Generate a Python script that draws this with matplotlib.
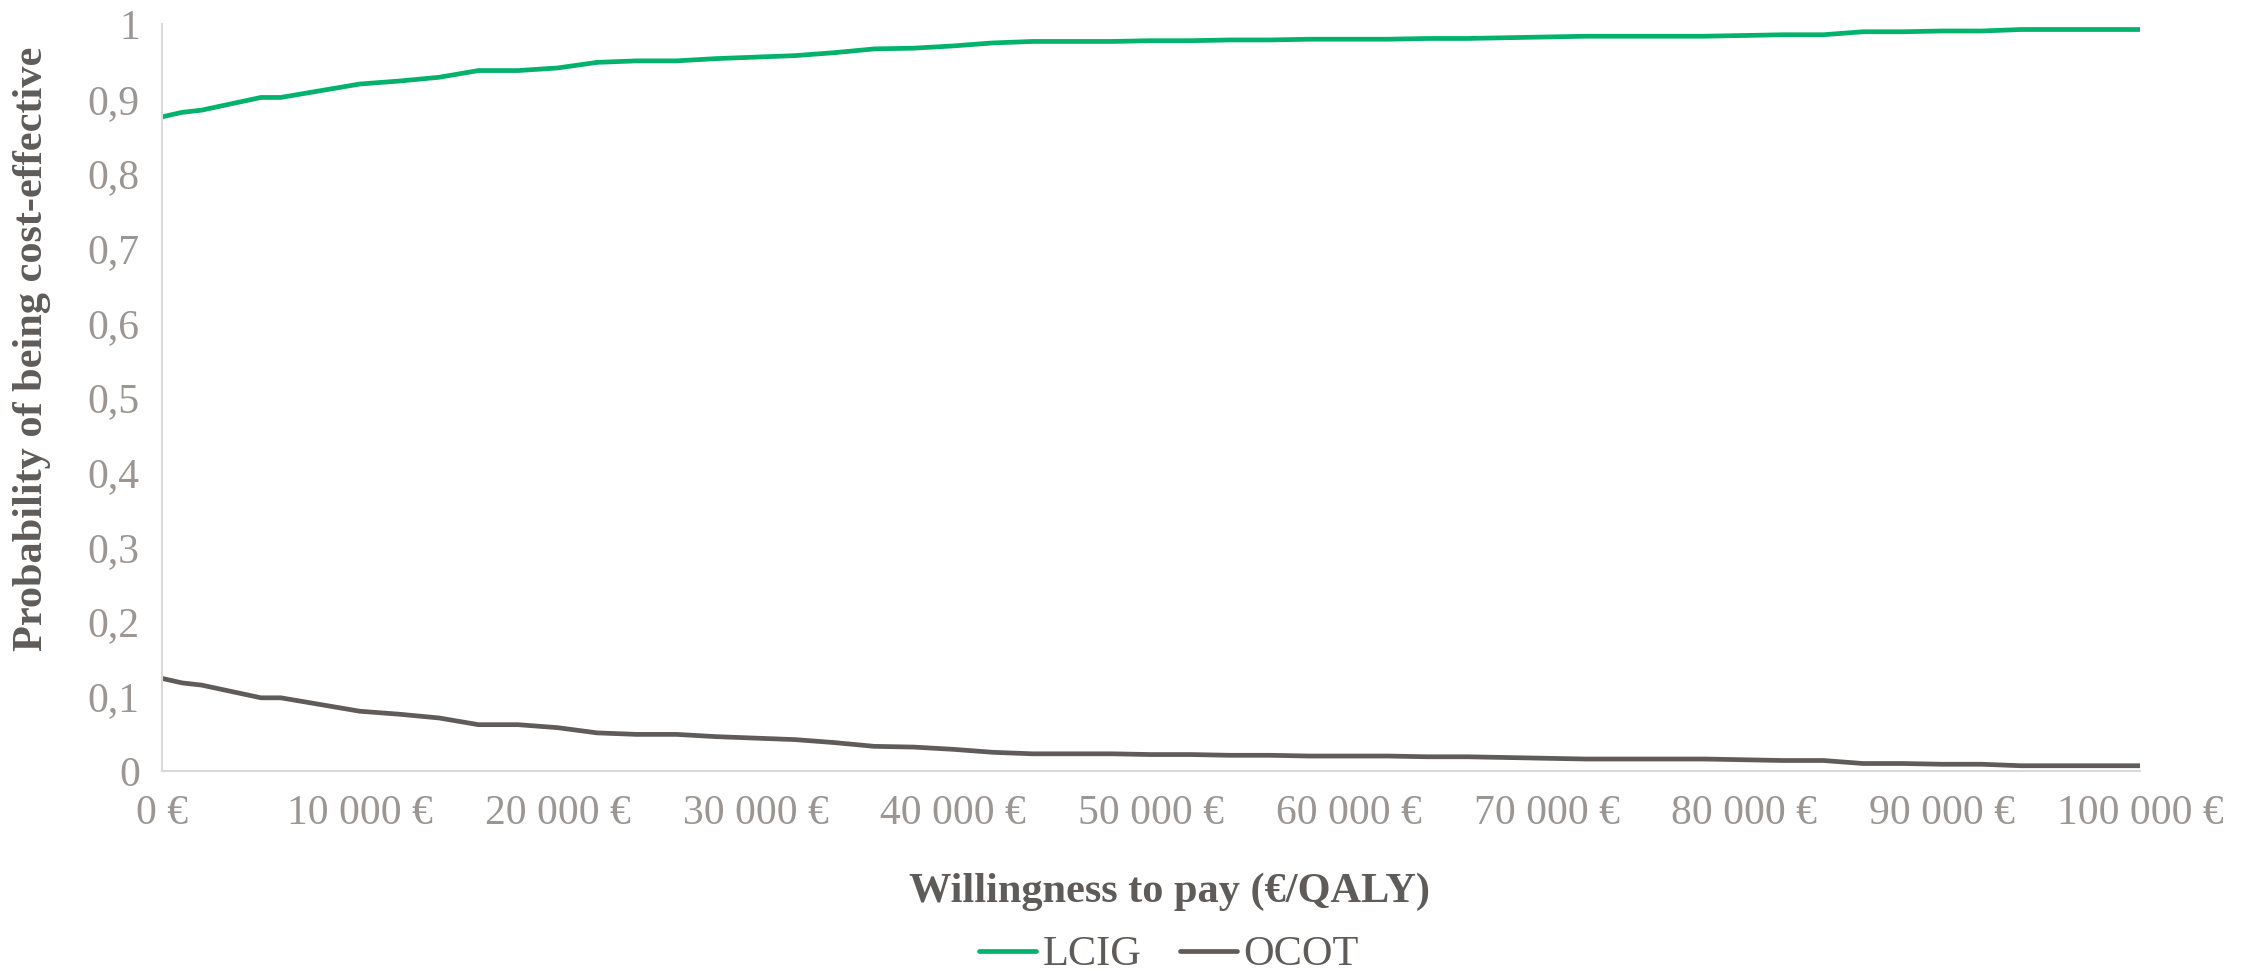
import matplotlib
matplotlib.use("Agg")
import matplotlib.pyplot as plt
from matplotlib.ticker import FuncFormatter, MultipleLocator

wtp = [0, 1000, 2000, 5000, 6000, 8000, 10000, 12000, 14000, 16000, 18000,
       20000, 22000, 24000, 26000, 28000, 30000, 32000, 34000, 36000, 38000,
       40000, 42000, 44000, 46000, 48000, 50000, 52000, 54000, 56000, 58000,
       60000, 62000, 64000, 66000, 68000, 70000, 72000, 74000, 76000, 78000,
       80000, 82000, 84000, 86000, 88000, 90000, 92000, 94000, 96000, 98000,
       100000]

lcig = [0.876, 0.882, 0.885, 0.902, 0.902, 0.911, 0.920, 0.924, 0.929, 0.938,
        0.938, 0.9415, 0.949, 0.951, 0.951, 0.954, 0.956, 0.958, 0.962, 0.967,
        0.968, 0.971, 0.975, 0.977, 0.977, 0.977, 0.978, 0.978, 0.979, 0.979,
        0.980, 0.980, 0.980, 0.981, 0.981, 0.982, 0.983, 0.984, 0.984, 0.984,
        0.984, 0.985, 0.986, 0.986, 0.990, 0.990, 0.991, 0.991, 0.993, 0.993,
        0.993, 0.993]

ocot = [0.124, 0.118, 0.115, 0.098, 0.098, 0.089, 0.080, 0.076, 0.071, 0.062,
        0.062, 0.058, 0.051, 0.049, 0.049, 0.046, 0.044, 0.042, 0.038, 0.033,
        0.032, 0.029, 0.025, 0.023, 0.023, 0.023, 0.022, 0.022, 0.021, 0.021,
        0.020, 0.020, 0.020, 0.019, 0.019, 0.018, 0.017, 0.016, 0.016, 0.016,
        0.016, 0.015, 0.014, 0.014, 0.010, 0.010, 0.009, 0.009, 0.007, 0.007,
        0.007, 0.007]

series_names = ["LCIG", "OCOT"]
x_label = "Willingness to pay (€/QALY)"
y_label = "Probability of being cost-effective"

plt.rcParams['font.family'] = ['Liberation Serif', 'DejaVu Serif']

GREEN = '#00B26C'
DARK = '#5F5B58'
TICK = '#9B9692'
SPINE = '#D9D9D9'

fig = plt.figure(figsize=(22.54, 9.71), dpi=100)
ax = fig.add_axes([0.0719, 0.206, 0.8775, 0.769])

ax.plot(wtp, lcig, color=GREEN, lw=3.4, label=series_names[0], solid_capstyle='round')
ax.plot(wtp, ocot, color=DARK, lw=3.4, label=series_names[1], solid_capstyle='round')

ax.set_xlim(0, 100000)
ax.set_ylim(0, 1)
ax.xaxis.set_major_locator(MultipleLocator(10000))
ax.yaxis.set_major_locator(MultipleLocator(0.1))

def fmt_x(v, pos):
    v = int(round(v))
    s = f"{v:,}".replace(",", " ")
    return f"{s} €"

def fmt_y(v, pos):
    if abs(v) < 1e-9:
        return "0"
    if abs(v - 1) < 1e-9:
        return "1"
    return f"{v:.1f}".replace(".", ",")

ax.xaxis.set_major_formatter(FuncFormatter(fmt_x))
ax.yaxis.set_major_formatter(FuncFormatter(fmt_y))

for s in ['top', 'right']:
    ax.spines[s].set_visible(False)
for s in ['left', 'bottom']:
    ax.spines[s].set_color(SPINE)
    ax.spines[s].set_linewidth(1.5)

ax.tick_params(axis='both', length=0, labelsize=30, labelcolor=TICK)
ax.tick_params(axis='x', pad=17)
ax.tick_params(axis='y', pad=16)

ax.set_xlabel(x_label, fontsize=30.5, fontweight='bold', color=DARK)
ax.xaxis.label.set_va('center')
ax.xaxis.set_label_coords(0.5096, -0.162)
ax.set_ylabel(y_label, fontsize=30.5, fontweight='bold', color=DARK)
ax.yaxis.label.set_va('center')
ax.yaxis.set_label_coords(-0.066, 0.566)

leg = fig.legend(loc='center', bbox_to_anchor=(0.5185, 0.0163), ncol=2, frameon=False,
                 fontsize=30.5, handlelength=1.35, handletextpad=0.15, columnspacing=0.9,
                 borderaxespad=0, borderpad=0)
for t in leg.get_texts():
    t.set_color(DARK)

fig.savefig("out.png", dpi=100)
